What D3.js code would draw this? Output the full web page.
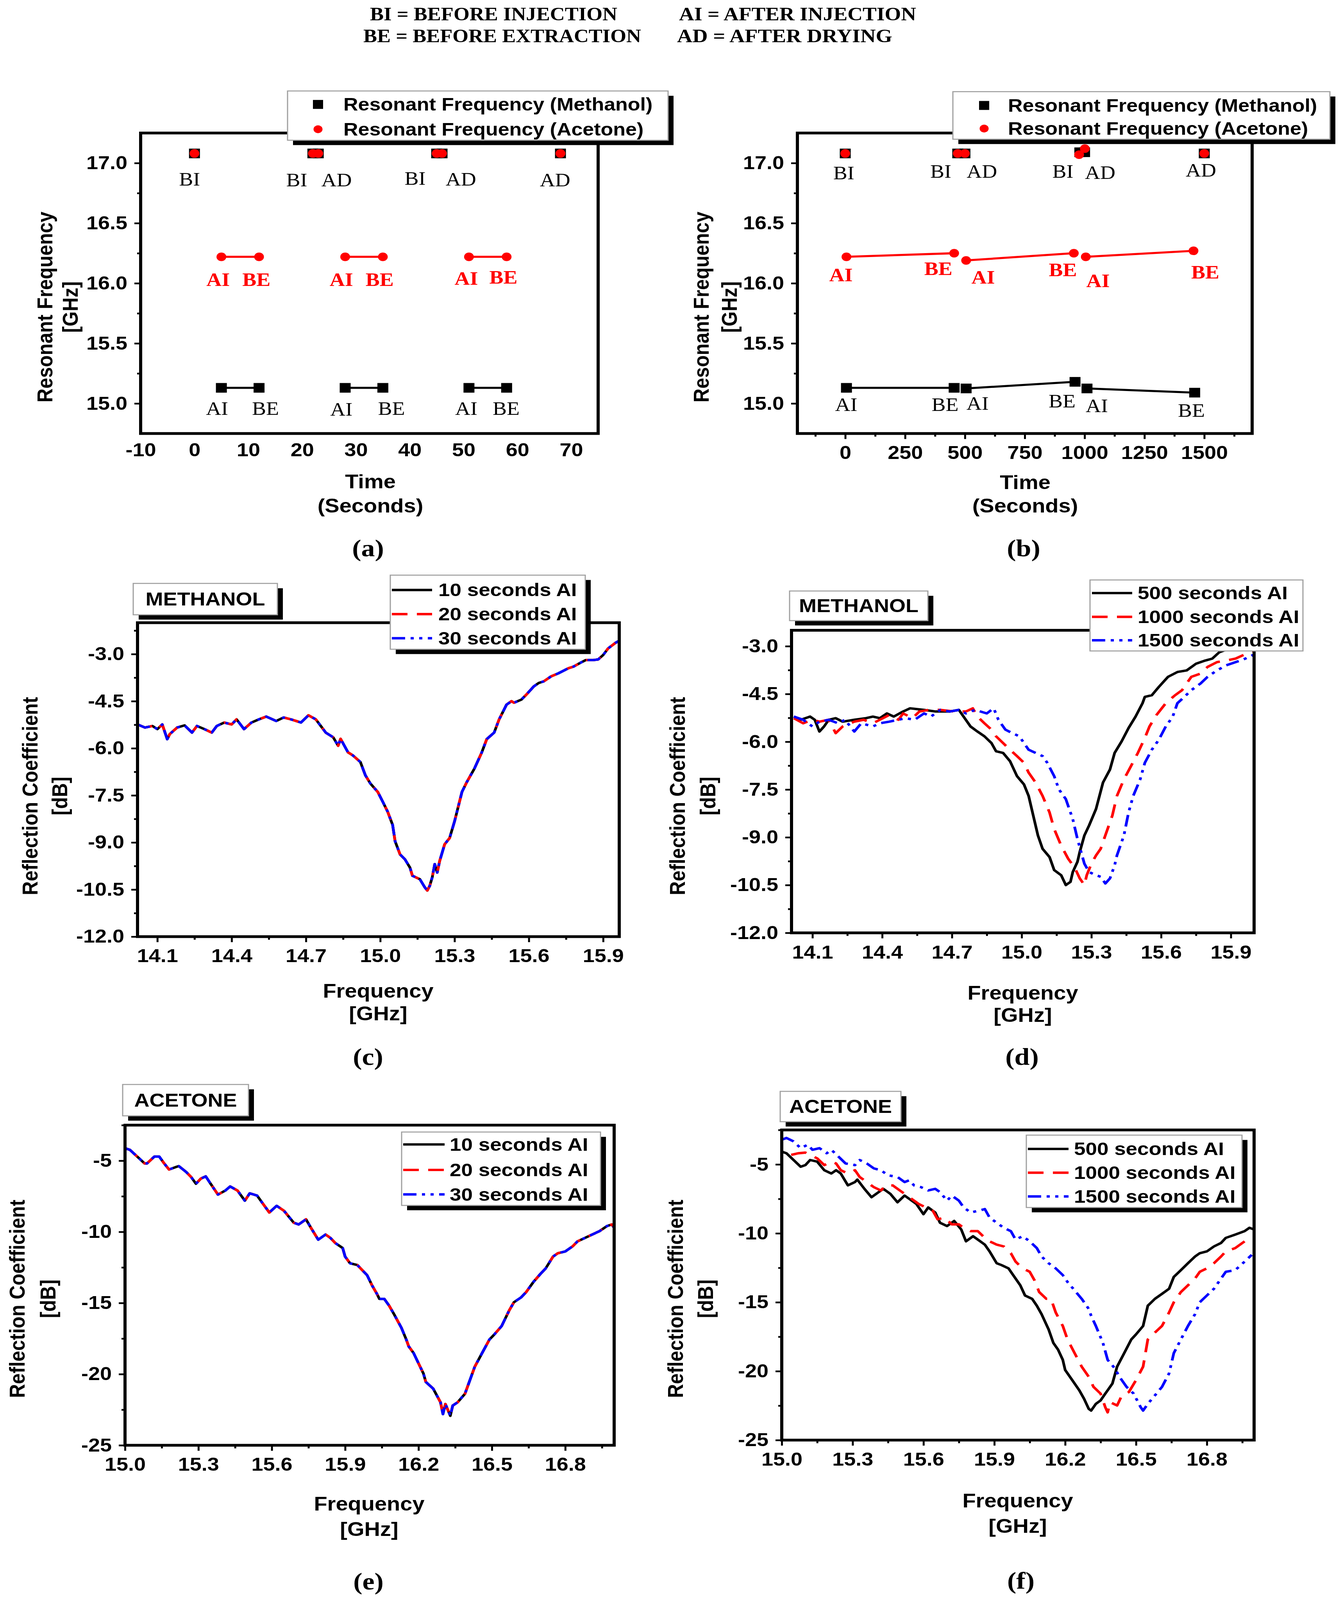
<!DOCTYPE html>
<html>
<head>
<meta charset="utf-8">
<script src="https://cdn.jsdelivr.net/npm/d3@7"></script>
<style>
  html, body { margin: 0; padding: 0; background: #fff; overflow: hidden; }
  svg { display: block; }
</style>
</head>
<body>
<script>
// ---------- data ----------

// header key
const headerLeft = ["BI = BEFORE INJECTION", "BE = BEFORE EXTRACTION"];
const headerRight = ["AI = AFTER INJECTION", "AD = AFTER DRYING"];

// (a) short injections, time in seconds, resonant frequency in GHz
const aTime = [0, 5, 12, 22, 23, 28, 35, 45, 46, 51, 58, 68];
const aMethanol = [17.08, 15.13, 15.13, 17.08, 17.08, 15.13, 15.13, 17.08, 17.08, 15.13, 15.13, 17.08];
const aAcetone = [17.08, 16.22, 16.22, 17.08, 17.08, 16.22, 16.22, 17.08, 17.08, 16.22, 16.22, 17.08];
const aSegment = [0, 1, 1, 0, 0, 2, 2, 0, 0, 3, 3, 0]; // 0 = stand-alone point
const aLabels = [
  ["BI", -0.9, 16.865, "#000"], ["BI", 19.0, 16.857, "#000"], ["AD", 26.4, 16.857, "#000"],
  ["BI", 41.0, 16.87, "#000"], ["AD", 49.5, 16.865, "#000"], ["AD", 67.0, 16.857, "#000"],
  ["AI", 4.4, 16.03, "red"], ["BE", 11.5, 16.03, "red"], ["AI", 27.3, 16.03, "red"],
  ["BE", 34.4, 16.03, "red"], ["AI", 50.5, 16.04, "red"], ["BE", 57.4, 16.05, "red"],
  ["AI", 4.2, 14.957, "#000"], ["BE", 13.2, 14.957, "#000"], ["AI", 27.3, 14.95, "#000"],
  ["BE", 36.6, 14.957, "#000"], ["AI", 50.5, 14.957, "#000"], ["BE", 57.9, 14.957, "#000"]
];

// (b) long injections
const bTimeMethanol = [0, 5, 455, 470, 500, 505, 960, 980, 1000, 1010, 1460, 1500];
const bMethanol = [17.08, 15.13, 15.13, 17.08, 17.08, 15.125, 15.18, 17.09, 17.09, 15.125, 15.09, 17.08];
const bTimeAcetone = [0, 5, 455, 470, 500, 505, 955, 977, 1001, 1005, 1455, 1500];
const bAcetone = [17.08, 16.22, 16.25, 17.08, 17.08, 16.19, 16.25, 17.07, 17.12, 16.22, 16.27, 17.08];
const bSegment = [0, 1, 1, 0, 0, 2, 2, 0, 0, 3, 3, 0];
const bLabels = [
  ["BI", -6, 16.915, "#000"], ["BI", 399, 16.93, "#000"], ["AD", 571, 16.93, "#000"],
  ["BI", 909, 16.93, "#000"], ["AD", 1065, 16.92, "#000"], ["AD", 1486, 16.94, "#000"],
  ["AI", -18, 16.07, "red"], ["BE", 389, 16.12, "red"], ["AI", 576, 16.05, "red"],
  ["BE", 909, 16.11, "red"], ["AI", 1056, 16.02, "red"], ["BE", 1504, 16.09, "red"],
  ["AI", 4, 14.99, "#000"], ["BE", 417, 14.99, "#000"], ["AI", 553, 15.0, "#000"],
  ["BE", 906, 15.02, "#000"], ["AI", 1051, 14.98, "#000"], ["BE", 1446, 14.94, "#000"]
];

// (c) methanol, 10/20/30 s after injection: the three traces coincide
const cMethanol = [
  [14.02,-5.24],[14.05,-5.34],[14.08,-5.29],[14.10,-5.39],[14.12,-5.24],[14.14,-5.71],[14.15,-5.55],
  [14.18,-5.34],[14.21,-5.27],[14.24,-5.50],[14.26,-5.29],[14.29,-5.39],[14.32,-5.50],[14.34,-5.29],
  [14.37,-5.18],[14.40,-5.24],[14.42,-5.08],[14.45,-5.39],[14.48,-5.18],[14.51,-5.08],[14.54,-4.99],
  [14.58,-5.13],[14.61,-5.02],[14.64,-5.08],[14.68,-5.18],[14.71,-4.95],[14.74,-5.08],[14.76,-5.29],
  [14.78,-5.50],[14.81,-5.65],[14.83,-5.92],[14.84,-5.70],[14.87,-6.13],[14.89,-6.23],[14.92,-6.44],
  [14.94,-6.86],[14.96,-7.12],[14.99,-7.39],[15.01,-7.70],[15.03,-8.02],[15.05,-8.44],[15.06,-8.96],
  [15.08,-9.38],[15.10,-9.54],[15.12,-9.80],[15.13,-10.06],[15.16,-10.17],[15.18,-10.43],[15.19,-10.53],
  [15.20,-10.38],[15.21,-10.11],[15.22,-9.69],[15.23,-9.96],[15.24,-9.59],[15.26,-9.06],[15.28,-8.86],
  [15.30,-8.33],[15.33,-7.39],[15.35,-7.07],[15.38,-6.65],[15.41,-6.13],[15.43,-5.71],[15.46,-5.50],
  [15.48,-5.08],[15.51,-4.61],[15.53,-4.50],[15.54,-4.55],[15.57,-4.45],[15.59,-4.29],[15.62,-4.03],
  [15.64,-3.92],[15.66,-3.87],[15.69,-3.71],[15.72,-3.61],[15.76,-3.45],[15.78,-3.40],[15.81,-3.27],
  [15.83,-3.19],[15.86,-3.19],[15.88,-3.17],[15.90,-3.03],[15.92,-2.82],[15.95,-2.64],[15.97,-2.55]
];

// (d) methanol, 500/1000/1500 s after injection
const dMethanol500 = [
  [14.02,-5.21],[14.05,-5.31],[14.09,-5.21],[14.11,-5.31],[14.13,-5.68],[14.15,-5.52],[14.17,-5.31],
  [14.20,-5.26],[14.23,-5.37],[14.28,-5.31],[14.33,-5.26],[14.36,-5.21],[14.39,-5.26],[14.42,-5.11],
  [14.45,-5.21],[14.49,-5.05],[14.52,-4.95],[14.58,-5.00],[14.63,-5.05],[14.69,-5.05],[14.73,-5.00],
  [14.75,-5.21],[14.78,-5.52],[14.81,-5.68],[14.84,-5.83],[14.87,-6.04],[14.89,-6.30],[14.92,-6.35],
  [14.95,-6.61],[14.98,-7.08],[15.01,-7.34],[15.03,-7.70],[15.05,-8.32],[15.07,-8.94],[15.09,-9.36],
  [15.12,-9.62],[15.14,-10.03],[15.17,-10.19],[15.19,-10.50],[15.21,-10.40],[15.22,-10.09],[15.24,-9.77],
  [15.25,-9.46],[15.27,-8.94],[15.29,-8.63],[15.32,-8.11],[15.35,-7.28],[15.38,-6.87],[15.40,-6.35],
  [15.43,-5.99],[15.46,-5.57],[15.49,-5.21],[15.52,-4.79],[15.53,-4.59],[15.56,-4.54],[15.59,-4.28],
  [15.63,-3.96],[15.67,-3.81],[15.71,-3.76],[15.75,-3.55],[15.79,-3.45],[15.82,-3.39],[15.85,-3.19],
  [15.88,-3.11],[15.93,-3.11],[16.00,-3.11]
];
const dMethanol1000 = [
  [14.02,-5.26],[14.06,-5.42],[14.10,-5.31],[14.13,-5.37],[14.17,-5.31],[14.20,-5.73],[14.23,-5.52],
  [14.28,-5.37],[14.32,-5.31],[14.36,-5.42],[14.39,-5.31],[14.43,-5.16],[14.47,-5.31],[14.49,-5.11],
  [14.53,-5.26],[14.56,-5.05],[14.60,-5.00],[14.65,-5.00],[14.71,-5.05],[14.76,-5.05],[14.79,-4.95],
  [14.81,-5.21],[14.84,-5.42],[14.87,-5.62],[14.89,-5.83],[14.92,-6.04],[14.95,-6.25],[14.98,-6.45],
  [15.01,-6.66],[15.03,-6.97],[15.06,-7.28],[15.09,-7.70],[15.12,-8.22],[15.14,-8.74],[15.17,-9.26],
  [15.20,-9.67],[15.23,-9.98],[15.25,-10.29],[15.27,-10.50],[15.28,-10.19],[15.30,-9.83],[15.32,-9.57],
  [15.34,-9.36],[15.36,-8.94],[15.39,-8.32],[15.41,-7.70],[15.44,-7.18],[15.47,-6.77],[15.50,-6.35],
  [15.53,-5.88],[15.55,-5.52],[15.58,-5.16],[15.62,-4.79],[15.66,-4.54],[15.69,-4.38],[15.73,-3.96],
  [15.77,-3.86],[15.80,-3.65],[15.84,-3.50],[15.88,-3.45],[15.92,-3.39],[15.95,-3.29],[16.00,-3.16]
];
const dMethanol1500 = [
  [14.02,-5.21],[14.06,-5.31],[14.10,-5.52],[14.13,-5.37],[14.17,-5.31],[14.21,-5.42],[14.24,-5.31],
  [14.28,-5.68],[14.31,-5.42],[14.36,-5.52],[14.39,-5.42],[14.43,-5.37],[14.47,-5.31],[14.50,-5.26],
  [14.54,-5.31],[14.58,-5.11],[14.61,-5.21],[14.65,-5.00],[14.69,-5.05],[14.73,-5.00],[14.76,-5.11],
  [14.80,-5.00],[14.85,-5.11],[14.88,-4.95],[14.90,-5.31],[14.93,-5.62],[14.96,-5.73],[14.99,-5.83],
  [15.01,-6.04],[15.03,-6.25],[15.06,-6.35],[15.09,-6.45],[15.11,-6.66],[15.14,-7.08],[15.16,-7.49],
  [15.19,-7.80],[15.22,-8.43],[15.24,-9.05],[15.26,-9.57],[15.27,-9.83],[15.29,-10.09],[15.32,-10.19],
  [15.34,-10.24],[15.36,-10.45],[15.38,-10.29],[15.40,-9.88],[15.41,-9.57],[15.44,-8.94],[15.46,-8.22],
  [15.48,-7.70],[15.51,-7.18],[15.53,-6.66],[15.56,-6.25],[15.59,-5.94],[15.62,-5.52],[15.65,-5.21],
  [15.67,-4.79],[15.70,-4.59],[15.73,-4.38],[15.77,-4.17],[15.80,-3.96],[15.84,-3.76],[15.88,-3.60],
  [15.92,-3.50],[15.95,-3.43],[16.00,-3.26]
];

// (e) acetone, 10/20/30 s after injection: the three traces coincide
const eAcetone = [
  [15.00,-4.12],[15.02,-4.24],[15.05,-4.71],[15.08,-5.19],[15.09,-5.19],[15.12,-4.71],[15.14,-4.71],
  [15.16,-5.19],[15.18,-5.62],[15.21,-5.43],[15.22,-5.38],[15.25,-5.79],[15.27,-6.14],[15.29,-6.62],
  [15.31,-6.26],[15.33,-6.10],[15.35,-6.62],[15.38,-7.38],[15.41,-7.10],[15.43,-6.81],[15.46,-7.10],
  [15.49,-7.81],[15.51,-7.29],[15.54,-7.45],[15.56,-7.93],[15.59,-8.64],[15.62,-8.17],[15.65,-8.52],
  [15.69,-9.36],[15.71,-9.48],[15.74,-9.12],[15.76,-9.71],[15.79,-10.55],[15.82,-10.19],[15.84,-10.43],
  [15.86,-10.79],[15.89,-11.14],[15.90,-11.74],[15.92,-12.21],[15.95,-12.33],[15.97,-12.69],[15.99,-13.05],
  [16.01,-13.76],[16.03,-14.36],[16.04,-14.71],[16.06,-14.71],[16.08,-15.19],[16.10,-15.79],[16.13,-16.74],
  [16.15,-17.57],[16.16,-18.05],[16.18,-18.52],[16.20,-19.24],[16.22,-19.95],[16.23,-20.55],[16.26,-21.02],
  [16.29,-21.98],[16.30,-22.81],[16.31,-22.10],[16.33,-22.93],[16.34,-22.21],[16.36,-21.98],[16.39,-21.38],
  [16.41,-20.43],[16.43,-19.48],[16.46,-18.52],[16.49,-17.57],[16.51,-17.21],[16.54,-16.62],[16.57,-15.55],
  [16.59,-14.95],[16.62,-14.60],[16.64,-14.24],[16.67,-13.52],[16.70,-12.93],[16.72,-12.57],[16.75,-11.74],
  [16.77,-11.50],[16.80,-11.38],[16.83,-11.02],[16.85,-10.67],[16.88,-10.43],[16.91,-10.19],[16.94,-9.95],
  [16.97,-9.60],[16.99,-9.48],[17.00,-9.71]
];

// (f) acetone, 500/1000/1500 s after injection
const fAcetone500 = [
  [15.00,-4.07],[15.02,-4.19],[15.05,-4.68],[15.08,-5.17],[15.10,-5.05],[15.12,-4.68],[15.15,-4.80],
  [15.18,-5.42],[15.21,-5.66],[15.23,-5.42],[15.25,-5.66],[15.28,-6.52],[15.31,-6.28],[15.32,-6.10],
  [15.35,-6.77],[15.38,-7.38],[15.41,-7.01],[15.43,-6.77],[15.46,-7.14],[15.49,-7.75],[15.52,-7.26],
  [15.54,-7.50],[15.57,-7.87],[15.60,-8.61],[15.62,-8.12],[15.65,-8.49],[15.67,-9.23],[15.70,-9.47],
  [15.73,-9.10],[15.76,-9.72],[15.78,-10.58],[15.81,-10.21],[15.83,-10.45],[15.86,-10.82],[15.88,-11.31],
  [15.91,-12.17],[15.93,-12.30],[15.96,-12.54],[15.98,-13.03],[16.01,-13.77],[16.03,-14.51],[16.06,-14.75],
  [16.08,-15.25],[16.10,-15.86],[16.13,-16.97],[16.15,-17.95],[16.17,-18.44],[16.19,-19.18],[16.20,-19.91],
  [16.23,-20.65],[16.26,-21.39],[16.28,-22.00],[16.30,-22.74],[16.31,-22.86],[16.33,-22.37],[16.35,-22.12],
  [16.37,-21.63],[16.40,-20.90],[16.42,-19.67],[16.45,-18.69],[16.48,-17.70],[16.50,-17.33],[16.53,-16.72],
  [16.55,-15.25],[16.58,-14.75],[16.61,-14.39],[16.64,-14.02],[16.66,-13.16],[16.69,-12.67],[16.72,-12.17],
  [16.75,-11.68],[16.77,-11.44],[16.80,-11.31],[16.83,-10.95],[16.86,-10.70],[16.88,-10.33],[16.92,-10.09],
  [16.96,-9.84],[16.98,-9.60],[17.00,-9.72]
];
const fAcetone1000 = [
  [15.04,-4.31],[15.07,-4.19],[15.10,-4.14],[15.12,-4.31],[15.15,-4.56],[15.18,-5.05],[15.21,-4.80],
  [15.23,-4.93],[15.25,-5.42],[15.28,-5.66],[15.31,-5.42],[15.33,-5.91],[15.36,-6.28],[15.39,-6.65],
  [15.42,-6.89],[15.44,-6.52],[15.47,-6.52],[15.50,-6.89],[15.53,-7.26],[15.55,-7.50],[15.58,-7.87],
  [15.61,-8.12],[15.64,-8.37],[15.66,-8.98],[15.69,-8.86],[15.72,-9.35],[15.75,-9.35],[15.77,-9.60],
  [15.80,-9.84],[15.83,-9.84],[15.86,-10.33],[15.88,-10.58],[15.91,-10.82],[15.94,-10.95],[15.97,-11.44],
  [15.99,-12.05],[16.02,-12.54],[16.05,-12.79],[16.07,-13.40],[16.09,-14.26],[16.12,-14.75],[16.14,-14.75],
  [16.16,-15.74],[16.19,-16.72],[16.21,-17.70],[16.24,-18.69],[16.27,-19.67],[16.30,-20.41],[16.32,-21.14],
  [16.35,-21.63],[16.37,-22.62],[16.38,-22.99],[16.39,-22.25],[16.42,-22.49],[16.44,-21.76],[16.47,-21.51],
  [16.50,-20.65],[16.53,-19.67],[16.55,-17.70],[16.58,-17.20],[16.61,-16.72],[16.64,-15.74],[16.66,-15.00],
  [16.69,-14.26],[16.72,-13.77],[16.75,-13.28],[16.77,-12.79],[16.80,-12.54],[16.83,-12.17],[16.86,-11.68],
  [16.88,-11.31],[16.92,-11.07],[16.96,-10.58],[16.99,-10.33]
];
const fAcetone1500 = [
  [15.00,-3.21],[15.02,-3.08],[15.05,-3.33],[15.08,-3.82],[15.11,-3.57],[15.13,-3.94],[15.16,-3.82],
  [15.19,-4.19],[15.21,-3.94],[15.24,-4.43],[15.27,-4.93],[15.31,-5.05],[15.33,-4.68],[15.36,-4.93],
  [15.39,-5.29],[15.42,-5.42],[15.45,-5.79],[15.49,-5.91],[15.52,-6.28],[15.54,-6.15],[15.56,-6.52],
  [15.59,-6.65],[15.62,-6.89],[15.65,-6.77],[15.67,-7.01],[15.70,-7.63],[15.72,-7.26],[15.75,-7.63],
  [15.77,-8.12],[15.80,-8.49],[15.83,-8.37],[15.86,-8.24],[15.88,-8.86],[15.91,-9.23],[15.94,-9.60],
  [15.97,-9.84],[15.99,-10.45],[16.02,-10.21],[16.05,-10.58],[16.08,-11.07],[16.10,-11.68],[16.13,-12.17],
  [16.16,-12.54],[16.19,-13.03],[16.21,-13.53],[16.24,-14.14],[16.27,-14.75],[16.30,-15.49],[16.31,-15.98],
  [16.33,-16.72],[16.36,-17.95],[16.38,-19.18],[16.41,-19.79],[16.43,-20.41],[16.46,-21.14],[16.49,-21.63],
  [16.52,-22.62],[16.53,-22.86],[16.55,-22.37],[16.58,-21.76],[16.61,-21.14],[16.64,-20.16],[16.66,-18.69],
  [16.69,-17.70],[16.72,-16.72],[16.75,-15.86],[16.77,-15.00],[16.80,-14.51],[16.83,-14.02],[16.86,-13.28],
  [16.88,-12.79],[16.92,-12.67],[16.96,-12.05],[16.99,-11.56]
];

const shortSeries = ["10 seconds AI", "20 seconds AI", "30 seconds AI"];
const longSeries = ["500 seconds AI", "1000 seconds AI", "1500 seconds AI"];
const resonanceSeries = ["Resonant Frequency (Methanol)", "Resonant Frequency (Acetone)"];

// ---------- drawing ----------

const W = 3435, H = 4643;
const sans = "'Liberation Sans', Arial, sans-serif";
const serif = "'Liberation Serif', 'Times New Roman', serif";
const tickFont = 54, titleFont = 56, legendFont = 53;

const seriesStyle = [
  { color: "#000", dash: null },
  { color: "#ff0000", dash: "40,24" },
  { color: "#0000ff", dash: "34,14,8,14,8,14" }
];

// laid out on the 3435 x 4643 figure canvas, stretched to fill the visible window
const svg = d3.select("body").append("svg")
  .attr("viewBox", `0 0 ${W} ${H}`)
  .attr("preserveAspectRatio", "none")
  .style("width", "100vw").style("height", "100vh")
  .style("background", "#fff");

const fix1 = (d) => d.toFixed(1);
const fix0 = (d) => d.toFixed(0);
const ticksIn = (dom, start, step) =>
  d3.range(start, dom[1] + 1e-9, step).filter((v) => v >= dom[0] - 1e-9);

// header key, condensed bold serif
const headerX = [[947, 930], [1738, 1733]];
const headerW = [[633, 711], [607, 551]];
[headerLeft, headerRight].forEach((lines, col) => {
  lines.forEach((t, row) => {
    svg.append("text")
      .attr("x", headerX[col][row])
      .attr("y", row === 0 ? 59 : 122)
      .attr("textLength", headerW[col][row])
      .attr("lengthAdjust", "spacingAndGlyphs")
      .attr("font-family", serif).attr("font-size", 54).attr("font-weight", "bold")
      .text(t);
  });
});

function styleAxis(sel) {
  sel.select(".domain").remove();
  sel.selectAll(".tick line").attr("stroke", "#000").attr("stroke-width", 5);
  sel.selectAll(".tick text")
    .attr("font-family", sans).attr("font-size", tickFont)
    .attr("font-weight", "bold").attr("fill", "#000");
}

let clipCount = 0;
function setupPanel(p) {
  const x = d3.scaleLinear().domain(p.xDomain).range([p.left, p.right]);
  const y = d3.scaleLinear().domain(p.yDomain).range([p.bottom, p.top]);
  const g = svg.append("g");

  g.append("g").attr("transform", `translate(${p.left},0)`)
    .call(d3.axisLeft(y).tickValues(p.yMinor).tickSize(9).tickFormat(""))
    .call(styleAxis);
  g.append("g").attr("transform", `translate(${p.left},0)`)
    .call(d3.axisLeft(y).tickValues(p.yMajor).tickSize(16).tickPadding(18).tickFormat(p.yFormat))
    .call(styleAxis);

  if (p.xMinor) {
    g.append("g").attr("transform", `translate(0,${p.bottom})`)
      .call(d3.axisBottom(x).tickValues(p.xMinor).tickSize(9).tickFormat(""))
      .call(styleAxis);
  }
  g.append("g").attr("transform", `translate(0,${p.bottom})`)
    .call(d3.axisBottom(x).tickValues(p.xMajor).tickSize(p.xTickSize)
      .tickPadding(p.xTickSize ? 20 : 28).tickFormat(p.xFormat))
    .call(styleAxis);

  // axis titles
  p.yTitle.forEach((t, i) => {
    g.append("text")
      .attr("transform", `translate(${p.yTitleX[i]},${p.yTitleY}) rotate(-90)`)
      .attr("text-anchor", "middle").attr("dominant-baseline", "central")
      .attr("font-family", sans).attr("font-size", titleFont).attr("font-weight", "bold")
      .text(t);
  });
  p.xTitle.forEach((t, i) => {
    g.append("text")
      .attr("x", p.xTitleX).attr("y", p.xTitleY[i])
      .attr("text-anchor", "middle").attr("dominant-baseline", "central")
      .attr("font-family", sans).attr("font-size", titleFont).attr("font-weight", "bold")
      .text(t);
  });

  // panel letter
  g.append("text")
    .attr("x", p.letterX).attr("y", p.letterY)
    .attr("text-anchor", "middle").attr("dominant-baseline", "central")
    .attr("font-family", serif).attr("font-size", 70).attr("font-weight", "bold")
    .text(p.letter);

  const id = "clip" + clipCount++;
  g.append("clipPath").attr("id", id).append("rect")
    .attr("x", p.left).attr("y", p.top)
    .attr("width", p.right - p.left).attr("height", p.bottom - p.top);
  const plot = g.append("g").attr("clip-path", `url(#${id})`);
  return { x, y, g, plot, p };
}

function drawFrame(P) {
  const p = P.p;
  P.g.append("rect")
    .attr("x", p.left).attr("y", p.top)
    .attr("width", p.right - p.left).attr("height", p.bottom - p.top)
    .attr("fill", "none").attr("stroke", "#000").attr("stroke-width", 8);
}

function drawBox(x, y, w, h, shadow) {
  if (shadow) {
    svg.append("rect").attr("x", x + 14).attr("y", y + 14)
      .attr("width", w).attr("height", h).attr("fill", "#000");
  }
  svg.append("rect").attr("x", x).attr("y", y)
    .attr("width", w).attr("height", h)
    .attr("fill", "#fff").attr("stroke", "#a0a0a0").attr("stroke-width", 3);
}

function tagBox(x, y, w, h, label) {
  drawBox(x, y, w, h, true);
  svg.append("text")
    .attr("x", x + w / 2).attr("y", y + h / 2)
    .attr("text-anchor", "middle").attr("dominant-baseline", "central")
    .attr("font-family", sans).attr("font-size", 54).attr("font-weight", "bold")
    .text(label);
}

// ---- resonance panels (a) and (b) ----
function drawResonance(P, times, values, seg, color, shape) {
  const idx = d3.range(times.length);
  d3.groups(idx.filter((i) => seg[i] > 0), (i) => seg[i]).forEach(([, members]) => {
    P.plot.append("path")
      .datum(members)
      .attr("d", d3.line().x((i) => P.x(times[i])).y((i) => P.y(values[i])))
      .attr("fill", "none").attr("stroke", color).attr("stroke-width", 6);
  });
  if (shape === "square") {
    P.plot.selectAll(null).data(idx).join("rect")
      .attr("x", (i) => P.x(times[i]) - 14).attr("y", (i) => P.y(values[i]) - 14)
      .attr("width", 28).attr("height", 28).attr("fill", color);
  } else {
    P.plot.selectAll(null).data(idx).join("circle")
      .attr("cx", (i) => P.x(times[i])).attr("cy", (i) => P.y(values[i]))
      .attr("r", 12.5).attr("fill", color);
  }
}

function drawTags(P, labels) {
  P.g.selectAll(null).data(labels).join("text")
    .attr("x", (d) => P.x(d[1])).attr("y", (d) => P.y(d[2]))
    .attr("text-anchor", "middle").attr("dominant-baseline", "central")
    .attr("font-family", serif).attr("font-size", 54)
    .attr("font-weight", (d) => (d[3] === "red" ? "bold" : "normal"))
    .attr("fill", (d) => d[3])
    .text((d) => d[0]);
}

function markerLegend(x, y, w, h, symX, textX, rows) {
  drawBox(x, y, w, h, true);
  resonanceSeries.forEach((name, i) => {
    if (i === 0) {
      svg.append("rect").attr("x", symX - 13).attr("y", rows[i] - 13)
        .attr("width", 26).attr("height", 26).attr("fill", "#000");
    } else {
      svg.append("circle").attr("cx", symX).attr("cy", rows[i]).attr("r", 11.5).attr("fill", "red");
    }
    svg.append("text").attr("x", textX).attr("y", rows[i])
      .attr("dominant-baseline", "central")
      .attr("font-family", sans).attr("font-size", 52).attr("font-weight", "bold")
      .text(name);
  });
}

const resY = { yDomain: [14.75, 17.25], yMajor: ticksIn([14.75, 17.25], 15, 0.5),
  yMinor: [15.25, 15.75, 16.25, 16.75], yFormat: fix1,
  yTitle: ["Resonant Frequency", "[GHz]"], xTitle: ["Time", "(Seconds)"] };

const PA = setupPanel(Object.assign({
  left: 360, right: 1531, top: 386, bottom: 1258,
  xDomain: [-10, 75], xMajor: d3.range(-10, 71, 10), xMinor: null, xTickSize: 0, xFormat: fix0,
  yTitleX: [114, 179], yTitleY: 891, xTitleX: 948, xTitleY: [1397, 1468],
  letter: "(a)", letterX: 942, letterY: 1590
}, resY));
drawResonance(PA, aTime, aMethanol, aSegment, "#000", "square");
drawResonance(PA, aTime, aAcetone, aSegment, "red", "circle");
drawTags(PA, aLabels);
drawFrame(PA);

const PB = setupPanel(Object.assign({
  left: 2041, right: 3205, top: 386, bottom: 1258,
  xDomain: [-200, 1700], xMajor: d3.range(0, 1501, 250),
  xMinor: d3.range(-125, 1700, 250), xTickSize: 16, xFormat: fix0,
  yTitleX: [1794, 1866], yTitleY: 891, xTitleX: 2624, xTitleY: [1400, 1468],
  letter: "(b)", letterX: 2620, letterY: 1590
}, resY));
drawResonance(PB, bTimeMethanol, bMethanol, bSegment, "#000", "square");
drawResonance(PB, bTimeAcetone, bAcetone, bSegment, "red", "circle");
drawTags(PB, bLabels);
drawFrame(PB);

markerLegend(736, 264, 974, 143, 814, 879, [303, 375]);
markerLegend(2439, 266, 965, 138, 2519, 2580, [306, 373]);

// ---- spectrum panels (c)-(f) ----
function drawSpectra(P, series) {
  const line = d3.line().x((d) => P.x(d[0])).y((d) => P.y(d[1]));
  series.forEach((data, i) => {
    P.plot.append("path").datum(data)
      .attr("d", line)
      .attr("fill", "none")
      .attr("stroke", seriesStyle[i].color)
      .attr("stroke-width", 7)
      .attr("stroke-linejoin", "round")
      .attr("stroke-dasharray", seriesStyle[i].dash);
  });
}

function lineLegend(x, y, w, h, shadow, lx0, lx1, textX, rows, names) {
  drawBox(x, y, w, h, shadow);
  names.forEach((name, i) => {
    svg.append("line")
      .attr("x1", lx0).attr("x2", lx1).attr("y1", rows[i]).attr("y2", rows[i])
      .attr("stroke", seriesStyle[i].color).attr("stroke-width", 7)
      .attr("stroke-dasharray", seriesStyle[i].dash);
    svg.append("text").attr("x", textX).attr("y", rows[i])
      .attr("dominant-baseline", "central")
      .attr("font-family", sans).attr("font-size", legendFont).attr("font-weight", "bold")
      .text(name);
  });
}

const methY = { yDomain: [-12, -2], yFormat: fix1,
  yTitle: ["Reflection Coefficient", "[dB]"], xTitle: ["Frequency", "[GHz]"],
  xMajor: ticksIn([14, 16], 14.1, 0.3), xMinor: ticksIn([14.01, 16], 14.25, 0.3),
  xTickSize: 16, xFormat: fix1 };

const PC = setupPanel(Object.assign({}, methY, {
  left: 352, right: 1585, top: 1807, bottom: 2718,
  xDomain: [14.02, 15.965],
  yMajor: ticksIn([-12, -2], -12, 1.5), yMinor: ticksIn([-12, -2], -11.25, 1.5),
  yTitleX: [76, 152], yTitleY: 2310, xTitleX: 968, xTitleY: [2875, 2941],
  letter: "(c)", letterX: 942, letterY: 3066
}));
drawSpectra(PC, [cMethanol, cMethanol, cMethanol]);
drawFrame(PC);

const PD = setupPanel(Object.assign({}, methY, {
  left: 2026, right: 3210, top: 1829, bottom: 2707,
  xDomain: [14.01, 16.0], yDomain: [-12, -2.5],
  yMajor: ticksIn([-12, -2.5], -12, 1.5), yMinor: ticksIn([-12, -2.5], -11.25, 1.5),
  yTitleX: [1733, 1811], yTitleY: 2310, xTitleX: 2618, xTitleY: [2881, 2946],
  letter: "(d)", letterX: 2616, letterY: 3066
}));
drawSpectra(PD, [dMethanol500, dMethanol1000, dMethanol1500]);
drawFrame(PD);

tagBox(341, 1693, 369, 91, "METHANOL");
tagBox(2021, 1715, 354, 86, "METHANOL");
lineLegend(999, 1669, 499, 215, true, 1003, 1106, 1122, [1712, 1782, 1852], shortSeries);
lineLegend(2790, 1683, 545, 206, false, 2795, 2898, 2912, [1721, 1790, 1858], longSeries);

const aceY = { xDomain: [15.0, 17.0], yDomain: [-25, -2.5], yFormat: fix0,
  yMajor: d3.range(-25, -4, 5), yMinor: d3.range(-22.5, -2, 5),
  yTitle: ["Reflection Coefficient", "[dB]"], xTitle: ["Frequency", "[GHz]"],
  xMajor: ticksIn([15, 17], 15.0, 0.3), xMinor: ticksIn([15, 17], 15.15, 0.3),
  xTickSize: 16, xFormat: fix1 };

const PE = setupPanel(Object.assign({}, aceY, {
  left: 320, right: 1572, top: 3265, bottom: 4194,
  yTitleX: [43, 122], yTitleY: 3769, xTitleX: 945, xTitleY: [4364, 4438],
  letter: "(e)", letterX: 943, letterY: 4588
}));
drawSpectra(PE, [eAcetone, eAcetone, eAcetone]);
drawFrame(PE);

const PF = setupPanel(Object.assign({}, aceY, {
  left: 2001, right: 3210, top: 3279, bottom: 4179,
  yTitleX: [1728, 1805], yTitleY: 3769, xTitleX: 2605, xTitleY: [4355, 4428],
  letter: "(f)", letterX: 2613, letterY: 4586
}));
drawSpectra(PF, [fAcetone500, fAcetone1000, fAcetone1500]);
drawFrame(PF);

tagBox(314, 3147, 322, 91, "ACETONE");
tagBox(1997, 3167, 309, 88, "ACETONE");
lineLegend(1028, 3285, 509, 213, true, 1032, 1138, 1151, [3321, 3395, 3466], shortSeries);
lineLegend(2627, 3294, 552, 210, true, 2631, 2735, 2749, [3334, 3403, 3472], longSeries);
</script>
</body>
</html>
